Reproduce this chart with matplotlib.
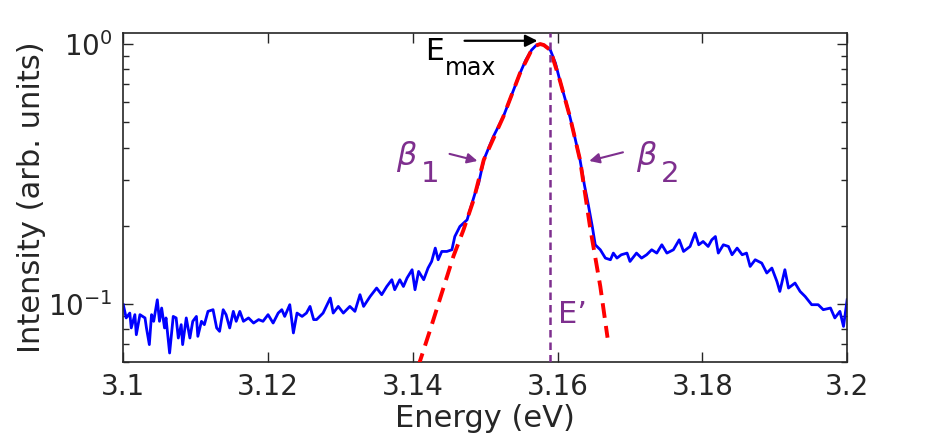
import matplotlib
matplotlib.use("Agg")
import matplotlib.pyplot as plt
from matplotlib.ticker import FixedLocator, LogLocator, NullFormatter

# measured spectrum (energy in eV, normalised intensity)
energy = [
    3.1000, 3.1004, 3.1009, 3.1011, 3.1016, 3.1018, 3.1023, 3.1030, 3.1032, 3.1036,
    3.1039, 3.1042, 3.1047, 3.1050, 3.1053, 3.1057, 3.1059, 3.1064, 3.1069, 3.1073,
    3.1076, 3.1080, 3.1082, 3.1087, 3.1092, 3.1096, 3.1101, 3.1103, 3.1108, 3.1112,
    3.1117, 3.1124, 3.1129, 3.1133, 3.1138, 3.1142, 3.1147, 3.1152, 3.1156, 3.1161,
    3.1166, 3.1173, 3.1180, 3.1187, 3.1193, 3.1200, 3.1207, 3.1214, 3.1219, 3.1223,
    3.1230, 3.1235, 3.1240, 3.1247, 3.1253, 3.1258, 3.1263, 3.1267, 3.1276, 3.1286,
    3.1290, 3.1297, 3.1304, 3.1313, 3.1320, 3.1327, 3.1332, 3.1341, 3.1350, 3.1357,
    3.1364, 3.1371, 3.1375, 3.1382, 3.1387, 3.1392, 3.1399, 3.1403, 3.1408, 3.1415,
    3.1421, 3.1426, 3.1431, 3.1435, 3.1440, 3.1447, 3.1454, 3.1458, 3.1465, 3.1470,
    3.1475, 3.1479, 3.1486, 3.1491, 3.1498, 3.1511, 3.1525, 3.1537, 3.1548, 3.1556,
    3.1564, 3.1570, 3.1576, 3.1581, 3.1590, 3.1597, 3.1603, 3.1610, 3.1617, 3.1624,
    3.1631, 3.1637, 3.1642, 3.1648, 3.1652, 3.1659, 3.1666, 3.1673, 3.1677, 3.1682,
    3.1688, 3.1696, 3.1700, 3.1709, 3.1716, 3.1723, 3.1730, 3.1737, 3.1744, 3.1751,
    3.1760, 3.1768, 3.1774, 3.1783, 3.1790, 3.1795, 3.1801, 3.1808, 3.1813, 3.1818,
    3.1822, 3.1829, 3.1836, 3.1841, 3.1848, 3.1855, 3.1861, 3.1866, 3.1873, 3.1882,
    3.1889, 3.1896, 3.1903, 3.1907, 3.1914, 3.1919, 3.1928, 3.1935, 3.1942, 3.1951,
    3.1960, 3.1967, 3.1977, 3.1983, 3.1990, 3.1995, 3.2000,
]
intensity = [
    0.0994, 0.0884, 0.0923, 0.0809, 0.0910, 0.0762, 0.0910, 0.0884, 0.0809, 0.0698,
    0.0910, 0.0858, 0.1038, 0.0858, 0.0965, 0.0809, 0.0884, 0.0648, 0.0896, 0.0884,
    0.0740, 0.0833, 0.0698, 0.0884, 0.0740, 0.0858, 0.0896, 0.0751, 0.0858, 0.0833,
    0.0937, 0.0951, 0.0809, 0.0785, 0.0951, 0.0910, 0.0809, 0.0937, 0.0858, 0.0937,
    0.0858, 0.0884, 0.0845, 0.0871, 0.0858, 0.0910, 0.0845, 0.0923, 0.0951, 0.0896,
    0.0994, 0.0774, 0.0923, 0.0896, 0.0923, 0.0979, 0.0871, 0.0871, 0.0923, 0.1054,
    0.0923, 0.0979, 0.0923, 0.0979, 0.0937, 0.1086, 0.0979, 0.1069, 0.1152, 0.1086,
    0.1168, 0.1240, 0.1135, 0.1240, 0.1168, 0.1259, 0.1355, 0.1135, 0.1335, 0.1240,
    0.1375, 0.1458, 0.1641, 0.1480, 0.1593, 0.1593, 0.1617, 0.1818, 0.1987, 0.2047,
    0.2108, 0.2303, 0.2670, 0.2917, 0.3584, 0.4393, 0.5255, 0.6426, 0.7716, 0.8680,
    0.9484, 0.9868, 1.0000, 0.9912, 0.9484, 0.8451, 0.7272, 0.6201, 0.5255, 0.4355,
    0.3584, 0.2873, 0.2443, 0.1982, 0.1690, 0.1617, 0.1502, 0.1480, 0.1570, 0.1502,
    0.1547, 0.1570, 0.1458, 0.1570, 0.1502, 0.1547, 0.1617, 0.1570, 0.1690, 0.1570,
    0.1617, 0.1766, 0.1593, 0.1665, 0.1874, 0.1690, 0.1740, 0.1665, 0.1766, 0.1818,
    0.1570, 0.1690, 0.1665, 0.1547, 0.1641, 0.1547, 0.1570, 0.1395, 0.1480, 0.1437,
    0.1316, 0.1375, 0.1221, 0.1118, 0.1355, 0.1152, 0.1204, 0.1118, 0.1069, 0.0994,
    0.0994, 0.0951, 0.0965, 0.0884, 0.0937, 0.0820, 0.1038,
]

# fitted curve (red dashed)
fit_energy = [3.1407, 3.1424, 3.1456, 3.1470, 3.1484, 3.1498, 3.1525, 3.1548,
              3.1564, 3.1570, 3.1576, 3.1581, 3.1590, 3.1603, 3.1617, 3.1631,
              3.1645, 3.1659, 3.1669]
fit_intensity = [0.0570, 0.0796, 0.1524, 0.1929, 0.2516, 0.3584, 0.5256, 0.7717,
                 0.9480, 0.9868, 1.0000, 0.9912, 0.9480, 0.7270, 0.5256, 0.3584,
                 0.1964, 0.1168, 0.0742]

e_prime = 3.1589
x_ticks = [3.1, 3.12, 3.14, 3.16, 3.18, 3.2]
x_tick_labels = ["3.1", "3.12", "3.14", "3.16", "3.18", "3.2"]

purple = "#7E2F8E"
dark = "#262626"

fig = plt.figure(figsize=(9.34, 4.44), dpi=100)
ax = fig.add_axes([0.132, 0.1854, 0.775, 0.7396])

ax.plot(energy, intensity, color="blue", lw=2.0, zorder=2)
ax.plot(fit_energy, fit_intensity, color="red", lw=2.8, dashes=(3.8, 2.1), zorder=3)
ax.axvline(e_prime, color=purple, lw=1.8, dashes=(3.0, 2.0), zorder=4)

ax.set_yscale("log")
ax.set_xlim(3.1, 3.2)
ax.set_ylim(0.06, 1.1)

ax.xaxis.set_major_locator(FixedLocator(x_ticks))
ax.set_xticklabels(x_tick_labels)
ax.yaxis.set_major_locator(LogLocator(base=10))
ax.yaxis.set_minor_locator(LogLocator(base=10, subs=range(2, 10)))
ax.yaxis.set_minor_formatter(NullFormatter())

ax.tick_params(which="both", direction="in", top=True, right=True,
               colors=dark, labelsize=20, width=1.0)
ax.tick_params(which="major", length=7, pad=8)
ax.tick_params(which="minor", length=4)
for s in ax.spines.values():
    s.set_color(dark)
    s.set_linewidth(1.2)

ax.set_xlabel("Energy (eV)", fontsize=22, color=dark, labelpad=2)
ax.set_ylabel("Intensity (arb. units)", fontsize=22, color=dark, labelpad=1)

# E_max annotation
ax.annotate("", xy=(3.1576, 1.0296), xytext=(3.14676, 1.0296),
            arrowprops=dict(arrowstyle="-|>", color="black", lw=1.6,
                            mutation_scale=18))
ax.text(3.1417, 0.868, "E", fontsize=21.5, color="black")
ax.text(3.1444, 0.760, "max", fontsize=17, color="black")

# beta labels
ax.annotate("", xy=(3.1493, 0.3530), xytext=(3.1447, 0.3803),
            arrowprops=dict(arrowstyle="-|>", color=purple, lw=1.5,
                            mutation_scale=15))
ax.text(3.1377, 0.3428, r"$\beta$", fontsize=23, color=purple)
ax.text(3.1411, 0.2950, "1", fontsize=21, color=purple)

ax.annotate("", xy=(3.1640, 0.3530), xytext=(3.1694, 0.3857),
            arrowprops=dict(arrowstyle="-|>", color=purple, lw=1.5,
                            mutation_scale=15))
ax.text(3.1709, 0.3428, r"$\beta$", fontsize=23, color=purple)
ax.text(3.1743, 0.2950, "2", fontsize=21, color=purple)

ax.text(3.1600, 0.0845, "E\u2019", fontsize=22, color=purple)

fig.savefig("out.png", dpi=100)
